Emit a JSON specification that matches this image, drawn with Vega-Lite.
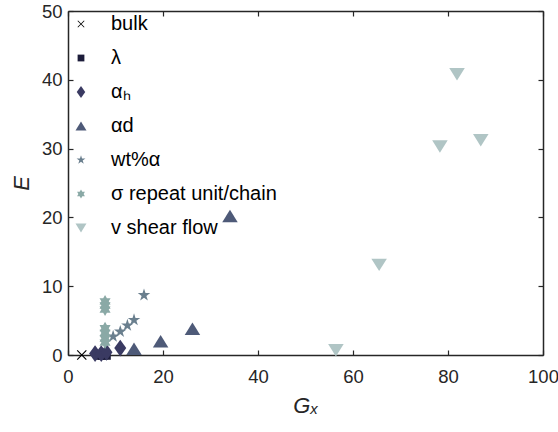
{
  "$schema": "https://vega.github.io/schema/vega-lite/v6.json",
  "width": 475,
  "height": 344,
  "autosize": {"type": "none"},
  "padding": {"left": 68, "top": 11, "right": 15, "bottom": 77},
  "background": "white",
  "config": {
    "font": "Liberation Sans",
    "view": {"stroke": null},
    "axis": {
      "labelFont": "Liberation Sans",
      "labelFontSize": 18.5,
      "labelColor": "#262626",
      "domainColor": "#262626",
      "domainWidth": 1.5,
      "tickColor": "#262626",
      "tickWidth": 1.2,
      "grid": false,
      "titleFont": "Liberation Sans",
      "titleFontSize": 22,
      "titleFontStyle": "italic",
      "titleFontWeight": "normal",
      "titleColor": "#262626"
    },
    "legend": {
      "labelFont": "Liberation Sans",
      "labelFontSize": 20,
      "labelColor": "#000000",
      "labelLimit": 400,
      "symbolSize": 128,
      "rowPadding": 14,
      "labelOffset": 20,
      "padding": 0,
      "offset": 3
    }
  },
  "data": {
    "values": [
      {"series": "bulk", "Gx": 2.9, "E": 0},
      {"series": "λ", "Gx": 6.5, "E": 0},
      {"series": "λ", "Gx": 7.3, "E": 0},
      {"series": "λ", "Gx": 8.0, "E": 0},
      {"series": "αₕ", "Gx": 5.7, "E": 0.2},
      {"series": "αₕ", "Gx": 7.0, "E": 0.2},
      {"series": "αₕ", "Gx": 8.1, "E": 0.4},
      {"series": "αₕ", "Gx": 11.0, "E": 1.0},
      {"series": "αd", "Gx": 13.9, "E": 0.9},
      {"series": "αd", "Gx": 19.5, "E": 2.0},
      {"series": "αd", "Gx": 26.2, "E": 3.8},
      {"series": "αd", "Gx": 34.1, "E": 20.2},
      {"series": "wt%α", "Gx": 9.5, "E": 2.7},
      {"series": "wt%α", "Gx": 11.0, "E": 3.4},
      {"series": "wt%α", "Gx": 12.5, "E": 4.3},
      {"series": "wt%α", "Gx": 13.9, "E": 5.1},
      {"series": "wt%α", "Gx": 16.0, "E": 8.7},
      {"series": "σ repeat unit/chain", "Gx": 7.8, "E": 7.8},
      {"series": "σ repeat unit/chain", "Gx": 7.8, "E": 7.2},
      {"series": "σ repeat unit/chain", "Gx": 7.8, "E": 6.6},
      {"series": "σ repeat unit/chain", "Gx": 7.8, "E": 3.9},
      {"series": "σ repeat unit/chain", "Gx": 7.8, "E": 3.2},
      {"series": "σ repeat unit/chain", "Gx": 7.8, "E": 2.4},
      {"series": "σ repeat unit/chain", "Gx": 7.8, "E": 1.8},
      {"series": "v shear flow", "Gx": 56.4, "E": 0.7},
      {"series": "v shear flow", "Gx": 65.5, "E": 13.1},
      {"series": "v shear flow", "Gx": 78.3, "E": 30.3},
      {"series": "v shear flow", "Gx": 81.9, "E": 40.8},
      {"series": "v shear flow", "Gx": 86.9, "E": 31.2}
    ]
  },
  "layer": [
    {
      "mark": {"type": "point", "filled": true, "opacity": 1, "size": 256},
      "encoding": {
        "x": {"field": "Gx", "type": "quantitative", "scale": {"domain": [0, 100], "nice": false},
              "axis": {"orient": "bottom", "title": "Gₓ", "values": [0, 20, 40, 60, 80, 100], "ticks": false, "labelPadding": 12, "titlePadding": 10, "labelFlush": false}},
        "y": {"field": "E", "type": "quantitative", "scale": {"domain": [0, 50], "nice": false},
              "axis": {"orient": "left", "title": "E", "values": [0, 10, 20, 30, 40, 50], "ticks": false, "labelPadding": 6, "titlePadding": 8, "labelFlush": false}},
        "color": {"field": "series", "type": "nominal",
          "sort": ["bulk", "λ", "αₕ", "αd", "wt%α", "σ repeat unit/chain", "v shear flow"],
          "scale": {"domain": ["bulk", "λ", "αₕ", "αd", "wt%α", "σ repeat unit/chain", "v shear flow"],
                    "range": ["#000000", "#1c1c3a", "#3a3a62", "#4e5a78", "#6a7f8e", "#8aa9a6", "#b0c5c5"]},
          "legend": {"title": null, "orient": "top-left"}},
        "shape": {"field": "series", "type": "nominal",
          "sort": ["bulk", "λ", "αₕ", "αd", "wt%α", "σ repeat unit/chain", "v shear flow"],
          "scale": {"domain": ["bulk", "λ", "αₕ", "αd", "wt%α", "σ repeat unit/chain", "v shear flow"],
                    "range": [
                      "M-0.62,-0.52L-0.52,-0.62L0,-0.1L0.52,-0.62L0.62,-0.52L0.1,0L0.62,0.52L0.52,0.62L0,0.1L-0.52,0.62L-0.62,0.52L-0.1,0Z",
                      "M-0.6,-0.6L0.6,-0.6L0.6,0.6L-0.6,0.6Z",
                      "M0,-1.06L0.75,0L0,1.06L-0.75,0Z",
                      "M0,-0.78L0.97,0.78L-0.97,0.78Z",
                      "M0,-0.82L0.184,-0.253L0.78,-0.253L0.298,0.097L0.482,0.663L0,0.313L-0.482,0.663L-0.298,0.097L-0.78,-0.253L-0.184,-0.253Z",
                      "M0,-0.8L0.231,-0.4L0.693,-0.4L0.462,0L0.693,0.4L0.231,0.4L0,0.8L-0.231,0.4L-0.693,0.4L-0.462,0L-0.693,-0.4L-0.231,-0.4Z",
                      "M-0.97,-0.78L0.97,-0.78L0,0.78Z"
                    ]},
          "legend": {"title": null, "orient": "top-left"}}
      }
    },
    {
      "mark": {"type": "point", "opacity": 0},
      "encoding": {
        "x": {"field": "Gx", "type": "quantitative", "scale": {"domain": [0, 100], "nice": false},
              "axis": {"orient": "bottom", "title": null, "labels": false, "domain": false, "offset": -5, "tickSize": 5, "values": [0, 20, 40, 60, 80, 100]}},
        "y": {"field": "E", "type": "quantitative", "scale": {"domain": [0, 50], "nice": false},
              "axis": {"orient": "left", "title": null, "labels": false, "domain": false, "offset": -5, "tickSize": 5, "values": [0, 10, 20, 30, 40, 50]}}
      }
    },
    {
      "mark": {"type": "point", "opacity": 0},
      "encoding": {
        "x": {"field": "Gx", "type": "quantitative", "scale": {"domain": [0, 100], "nice": false},
              "axis": {"orient": "top", "title": null, "labels": false, "ticks": false, "values": [0, 20, 40, 60, 80, 100]}},
        "y": {"field": "E", "type": "quantitative", "scale": {"domain": [0, 50], "nice": false},
              "axis": {"orient": "right", "title": null, "labels": false, "ticks": false, "values": [0, 10, 20, 30, 40, 50]}}
      }
    },
    {
      "mark": {"type": "point", "opacity": 0},
      "encoding": {
        "x": {"field": "Gx", "type": "quantitative", "scale": {"domain": [0, 100], "nice": false},
              "axis": {"orient": "top", "title": null, "labels": false, "domain": false, "offset": -5, "tickSize": 5, "values": [0, 20, 40, 60, 80, 100]}},
        "y": {"field": "E", "type": "quantitative", "scale": {"domain": [0, 50], "nice": false},
              "axis": {"orient": "right", "title": null, "labels": false, "domain": false, "offset": -5, "tickSize": 5, "values": [0, 10, 20, 30, 40, 50]}}
      }
    }
  ],
  "resolve": {"axis": {"x": "independent", "y": "independent"}}
}
